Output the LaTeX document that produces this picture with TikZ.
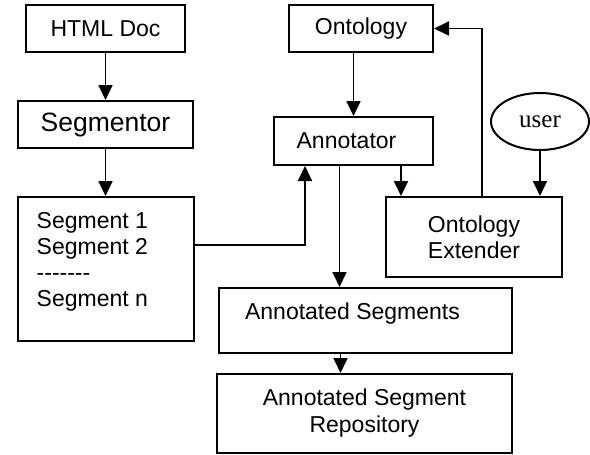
\documentclass[tikz,border=0pt]{standalone}
\usepackage{fontspec}
\setmainfont{Liberation Sans}
\newfontfamily\userfont{Liberation Serif}
\usetikzlibrary{arrows.meta,shapes.geometric}
\tikzset{
  box/.style={draw, rectangle, line width=2pt, inner sep=0pt},
  link/.style={->, line width=1.8pt},
}
\newcommand{\dashrow}{-\kern0pt-\kern0pt-\kern0pt-\kern0pt-\kern0pt-\kern0pt-}

\begin{document}
\begin{tikzpicture}[x=1pt, y=-1pt, >={Triangle[width=14pt,length=15pt]},
    every node/.style={font=\fontsize{23}{26}\selectfont}]
  \useasboundingbox (0,0) rectangle (590,455);

  % --- left column: document and segmentation ---
  \node[box, minimum width=159pt, minimum height=47pt] (html) at (105.5,28.5) {HTML Doc};
  \node[box, minimum width=175pt, minimum height=47pt, font=\fontsize{26.5}{30}\selectfont] (segmentor) at (105.5,124.5) {Segmentor};
  \node[box, minimum width=176pt, minimum height=144pt] (segs) at (105.5,269) {};
  \node[anchor=north west, align=left, inner sep=0pt] (segstext) at ([xshift=20pt,yshift=-16pt]segs.north west)
    {Segment 1\\Segment 2\\\dashrow\\Segment n};

  % --- middle column: annotation ---
  \node[box, minimum width=144pt, minimum height=47pt] (ontology) at (361,28.5) {Ontology};
  \node[box, minimum width=159pt, minimum height=48pt] (annotator) at (353.5,141) {Annotator\hspace*{14pt}};
  \node[box, minimum width=293pt, minimum height=65pt] (anseg) at (365.5,320.5) {};
  \node (anseglabel) at ([xshift=-13pt,yshift=7pt]anseg.center) {Annotated Segments};
  \node[box, minimum width=295pt, minimum height=79pt, align=center, font=\fontsize{23}{27}\selectfont] (repo) at (364.5,413.5)
    {Annotated Segment\\Repository};

  % --- right column: ontology extension ---
  \node[draw, ellipse, line width=2pt, inner sep=0pt, minimum width=98pt, minimum height=57pt,
    font=\userfont\fontsize{25}{28}\selectfont] (user) at (540,121.5) {user};
  \node[box, minimum width=176pt, minimum height=80pt, align=center] (extender) at (474,237)
    {Ontology\\Extender};

  % --- connectors ---
  \draw[link] (html) -- (segmentor);
  \draw[link] (segmentor) -- (segs);
  \draw[link] ([yshift=24pt]segs.east) -| ([xshift=32pt]annotator.south west);
  \draw[link] (ontology.south -| annotator.north) -- (annotator.north);
  \draw[link] ([xshift=-14pt]annotator.south) -- ([xshift=-14pt]annotator.south |- anseg.north);
  \draw[link] ([xshift=-25pt]anseg.south) -- ([xshift=-25pt]anseg.south |- repo.north);
  \coordinate (extin) at ([xshift=16pt]extender.north west);
  \draw[link] (extin |- annotator.south) -- (extin);
  \draw[link] (user) -- (user |- extender.north);
  \draw[link] ([xshift=8pt]extender.north) |- (ontology.east);
\end{tikzpicture}
\end{document}
